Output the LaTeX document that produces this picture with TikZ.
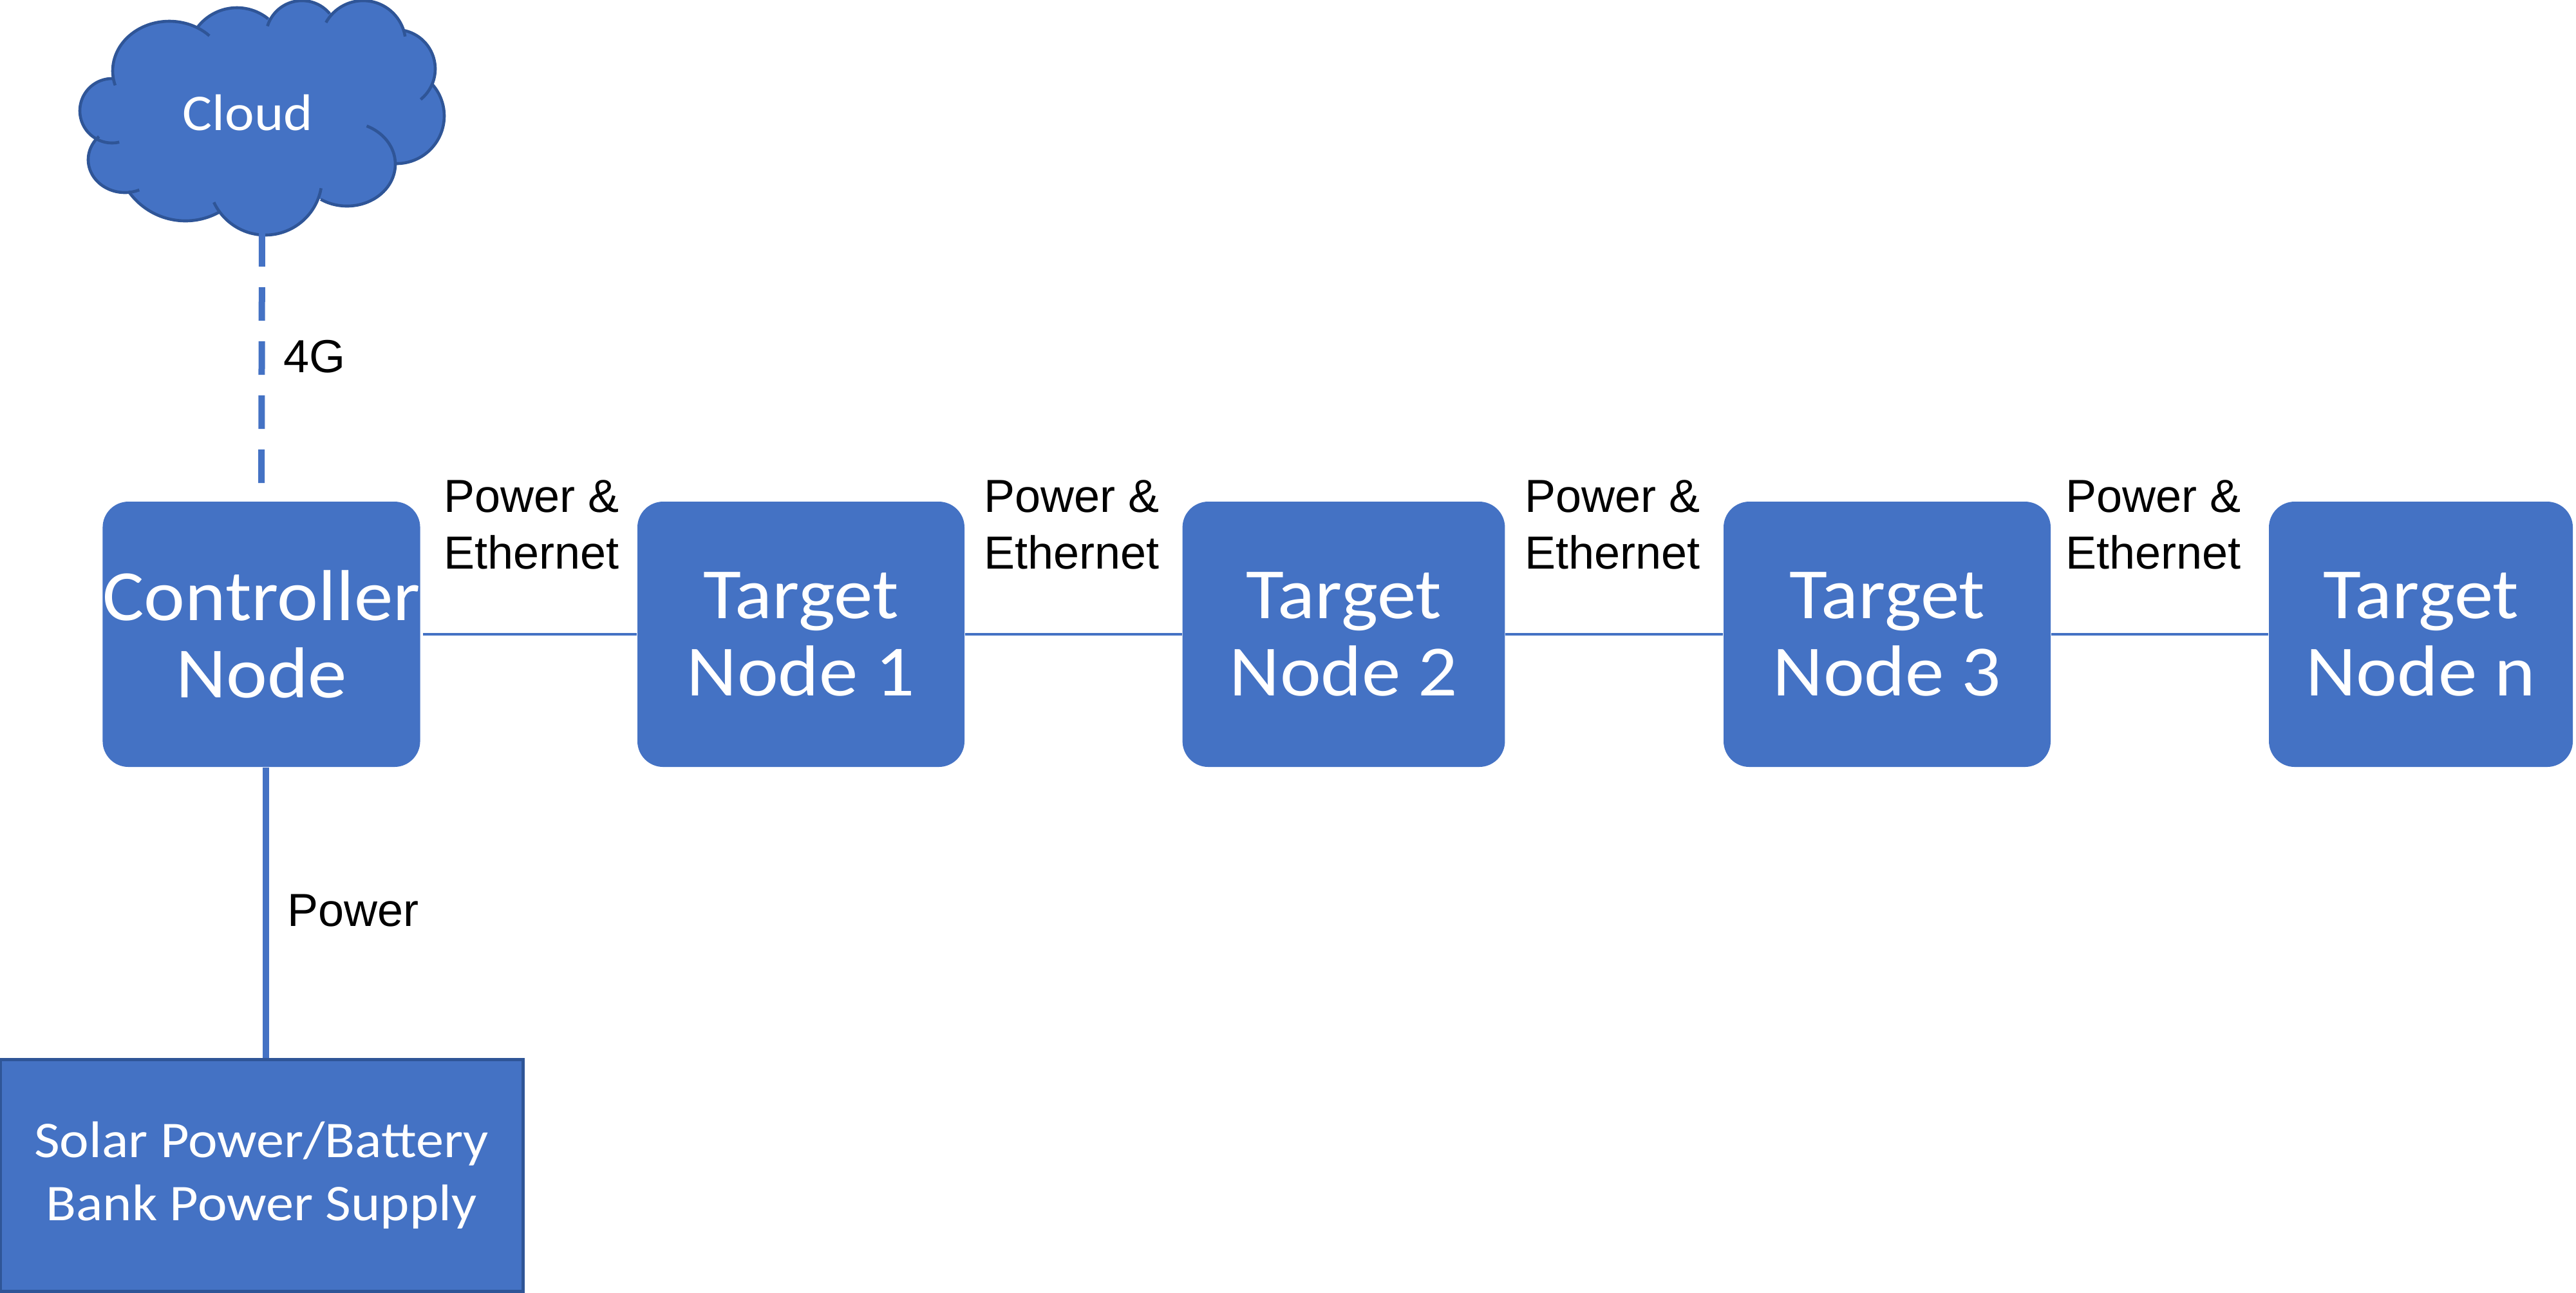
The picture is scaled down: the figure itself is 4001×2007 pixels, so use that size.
\documentclass[tikz,border=0pt]{standalone}
\usepackage{fontspec}
\setmainfont{Liberation Sans}
\newfontfamily\boxfont[FakeStretch=1.08]{Carlito}
\usetikzlibrary{calc}
\definecolor{fillblue}{HTML}{4472C4}
\definecolor{edgeblue}{HTML}{2F5597}
\newcommand{\cloudfill}[5]{\fill[fillblue] (#1,#2) ellipse[x radius=#3*0.25pt,y radius=#4*0.25pt];}
\newcommand{\cloudarc}[6]{\draw[edgeblue,line width=1.15pt,line cap=butt] plot[domain=#5:#6,samples=48,smooth] ({#1+#3*cos(\x)},{#2+#4*sin(\x)});}
\tikzset{
  nodebox/.style={fill=fillblue,draw=none,rounded corners=10pt,text=white,align=center,inner sep=0pt,font=\boxfont\fontsize{28}{30.2}\selectfont},
  solarbox/.style={fill=fillblue,draw=edgeblue,line width=1.25pt,text=white,align=center,inner sep=0pt,font=\boxfont\fontsize{20}{24.6}\selectfont},
  wire/.style={draw=fillblue,line width=1.2pt},
  thickwire/.style={draw=fillblue,line width=2.5pt},
  lbl/.style={text=black,align=left,inner sep=0pt,font=\fontsize{18}{22}\selectfont},
}
\begin{document}
\begin{tikzpicture}[x=0.25pt,y=-0.25pt]
\useasboundingbox (0,0) rectangle (4001,2007);
% cloud
\fill[fillblue] (175,122)--(307,42)--(417,28)--(513,20)--(626,47)--(671,130)--(615,255)--(499,308)--(340,331)--(201,297)--(155,214)--cycle;
\cloudfill{174}{172}{50}{50}{}
\cloudfill{263}{110}{88}{77}{}
\cloudfill{368}{89}{77}{77}{}
\cloudfill{469}{57}{56}{56}{}
\cloudfill{564}{67}{66}{66}{}
\cloudfill{615}{107}{61}{61}{}
\cloudfill{616}{180}{74}{74}{}
\cloudfill{539}{255}{75}{65}{}
\cloudfill{412}{277}{88}{88}{}
\cloudfill{288}{235}{108}{108}{}
\cloudfill{194}{248}{57}{51}{}
\cloudarc{174}{172}{50}{50}{77}{270}
\cloudarc{263}{110}{88}{77}{163}{315}
\cloudarc{368}{89}{77}{77}{218}{309}
\cloudarc{469}{57}{56}{56}{197}{320}
\cloudarc{564}{67}{66}{66}{209}{351}
\cloudarc{615}{107}{61}{61}{-80}{51}
\cloudarc{616}{180}{74}{74}{-42}{90}
\cloudarc{539}{255}{75}{65}{-66}{123}
\cloudarc{412}{277}{88}{88}{10}{155}
\cloudarc{288}{235}{108}{108}{61}{145}
\cloudarc{194}{248}{57}{51}{67}{225}
\node[text=white,inner sep=0pt,font=\boxfont\fontsize{20}{24}\selectfont] (cloud) at (385,175) {Cloud};
\coordinate (cloudbase) at (407,362);
% boxes
\node[nodebox,minimum width=122.5pt,minimum height=103pt] (ctrl) at (406,985) {Controller\\Node};
\node[nodebox,minimum width=127pt,minimum height=103pt] (t1) at (1244,985) {Target\\Node 1};
\node[nodebox,minimum width=125.2pt,minimum height=103pt] (t2) at (2087,985) {Target\\Node 2};
\node[nodebox,minimum width=127pt,minimum height=103pt] (t3) at (2931,985) {Target\\Node 3};
\node[nodebox,minimum width=118pt,minimum height=103pt] (tn) at (3760,985) {Target\\Node n};
\node[solarbox,minimum width=203pt,minimum height=90pt] (solar) at (406,1825) {Solar Power/Battery\\Bank Power Supply};
% connectors
\draw[wire] (ctrl.east) ++(4,0) coordinate (a1) -- (t1.west);
\draw[wire] (t1.east) -- (t2.west);
\draw[wire] (t2.east) -- (t3.west);
\draw[wire] (t3.east) -- (tn.west);
\draw[thickwire,dash pattern=on 13pt off 8pt,shorten >=4pt] (cloudbase) -- (ctrl.north);
\draw[thickwire] ($(ctrl.south)+(7,0)$) -- ($(solar.north)+(7,0)$);
% labels
\node[lbl,anchor=base west] (l1) at (689,883) {Power \&\\Ethernet};
\node[lbl,anchor=base west] (l2) at (1528,883) {Power \&\\Ethernet};
\node[lbl,anchor=base west] (l3) at (2368,883) {Power \&\\Ethernet};
\node[lbl,anchor=base west] (l4) at (3208,883) {Power \&\\Ethernet};
\node[lbl,anchor=base west] (l5) at (440,578) {4G};
\node[lbl,anchor=base west] (l6) at (446,1438) {Power};
\end{tikzpicture}
\end{document}
